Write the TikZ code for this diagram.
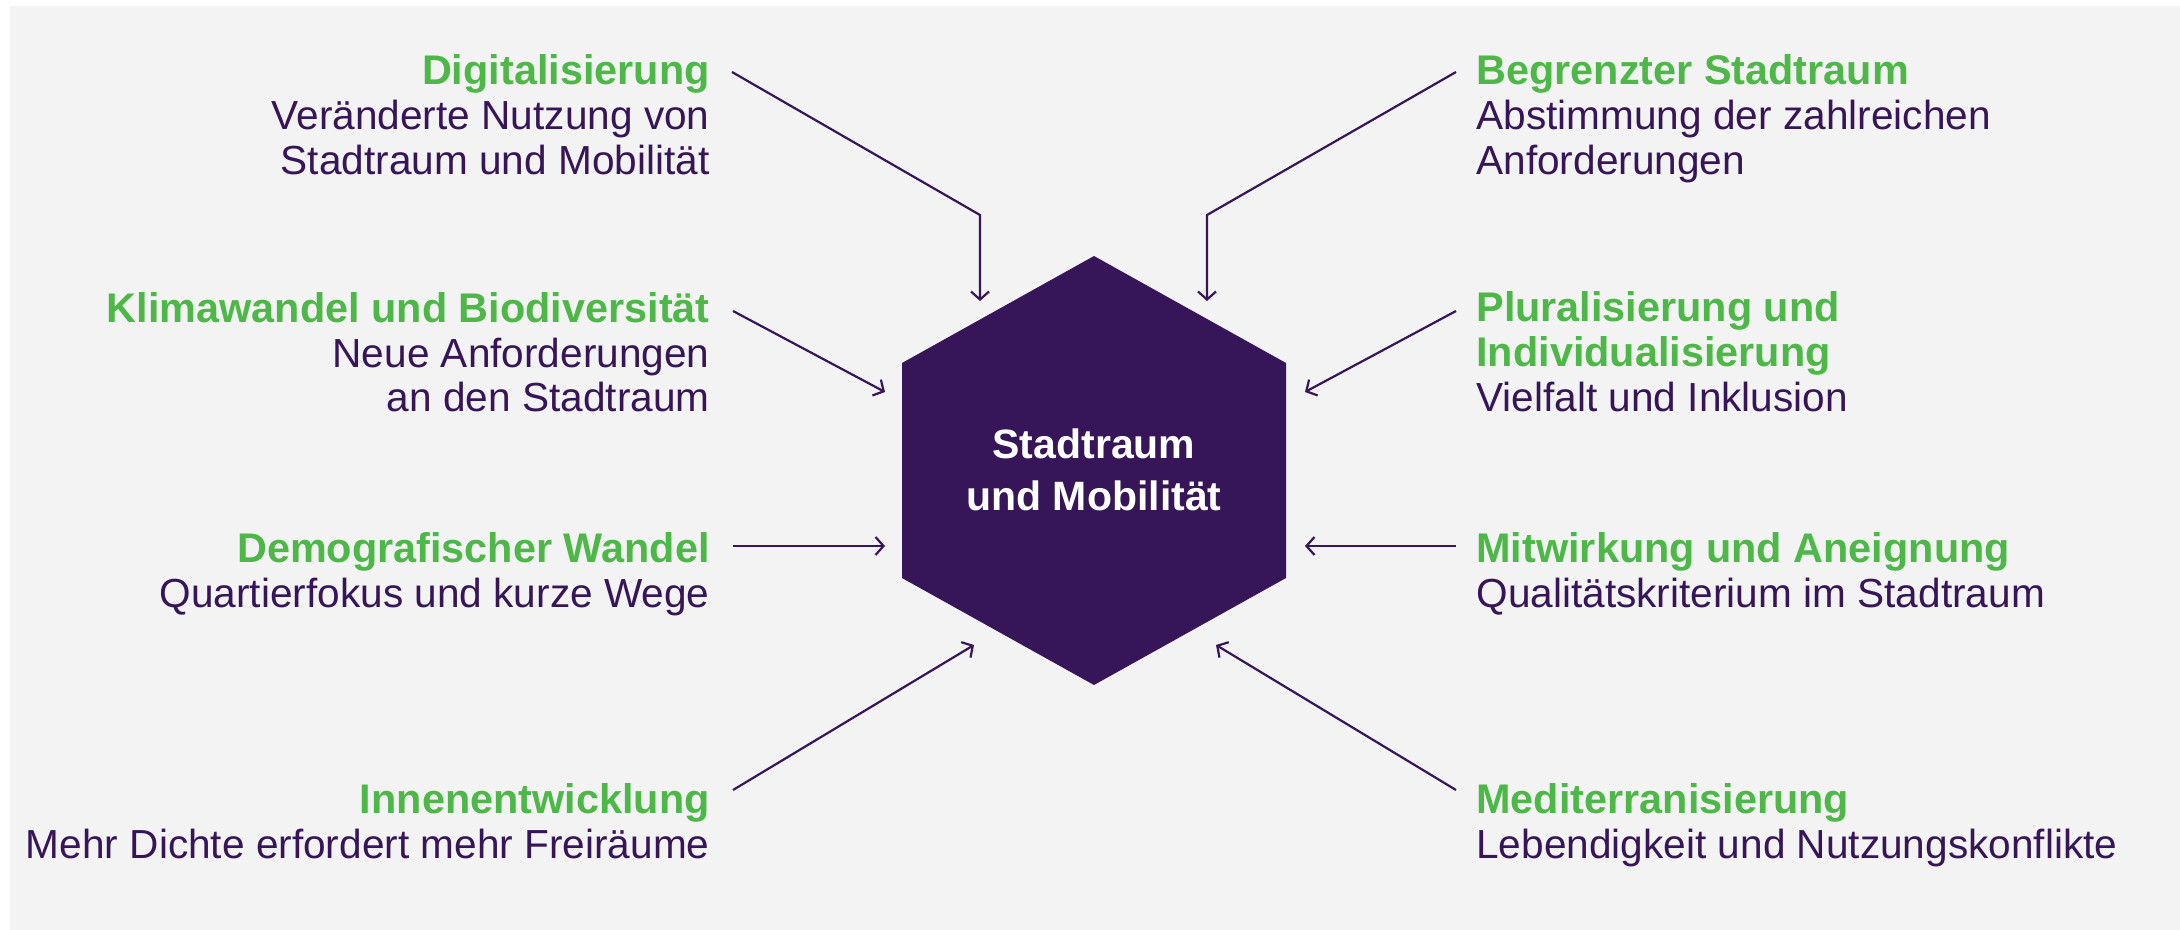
\documentclass[tikz,border=0pt]{standalone}
\usepackage{fontspec}
\setmainfont{Liberation Sans}
\usetikzlibrary{arrows.meta}
\definecolor{bg}{HTML}{F3F3F3}
\definecolor{grn}{HTML}{4DB848}
\definecolor{pur}{HTML}{361558}
\tikzset{
  ttl/.style={font=\fontsize{20.7pt}{22.5pt}\selectfont\bfseries, text=grn, inner sep=0pt},
  txt/.style={font=\fontsize{20.3pt}{22.5pt}\selectfont, text=pur, inner sep=0pt},
  lft/.style={anchor=base east},
  rgt/.style={anchor=base west},
  hextxt/.style={font=\fontsize{20.5pt}{25pt}\selectfont\bfseries, text=white, inner sep=0pt, anchor=base},
  arr/.style={draw=pur, line width=1.1pt, -{Straight Barb[length=4pt,width=9pt]}},
}
\begin{document}
\begin{tikzpicture}[x=0.5pt,y=-0.5pt]
\useasboundingbox (0,0) rectangle (2180,930);
\fill[white] (0,0) rectangle (2180,930);
\fill[bg] (10,6) rectangle (2180,930);

% hexagon
\fill[pur] (1094,256) -- (1286,363) -- (1286,578) -- (1094,685) -- (902,578) -- (902,363) -- cycle;
\node[hextxt] (hexA) at (1094,459) {Stadtraum};
\node[hextxt] (hexB) at (1094,510) {und Mobilität};

% left texts
\node[ttl,lft] (digT) at (710,85) {Digitalisierung};
\node[txt,lft] (digA) at (710,130) {Veränderte Nutzung von};
\node[txt,lft] (digB) at (710,175) {Stadtraum und Mobilität};

\node[ttl,lft] (kliT) at (710,323) {Klimawandel und Biodiversität};
\node[txt,lft] (kliA) at (710,368) {Neue Anforderungen};
\node[txt,lft] (kliB) at (710,412) {an den Stadtraum};

\node[ttl,lft] (demT) at (710,562) {Demografischer Wandel};
\node[txt,lft] (demA) at (710,607) {Quartierfokus und kurze Wege};

\node[ttl,lft] (innT) at (710,813) {Innenentwicklung};
\node[txt,lft] (innA) at (710,858) {Mehr Dichte erfordert mehr Freiräume};

% right texts
\node[ttl,rgt] (begT) at (1476,85) {Begrenzter Stadtraum};
\node[txt,rgt] (begA) at (1476,130) {Abstimmung der zahlreichen};
\node[txt,rgt] (begB) at (1476,175) {Anforderungen};

\node[ttl,rgt] (pluT) at (1476,322) {Pluralisierung und};
\node[ttl,rgt] (pluU) at (1476,367) {Individualisierung};
\node[txt,rgt] (pluA) at (1476,412) {Vielfalt und Inklusion};

\node[ttl,rgt] (mitT) at (1476,562) {Mitwirkung und Aneignung};
\node[txt,rgt] (mitA) at (1476,607) {Qualitätskriterium im Stadtraum};

\node[ttl,rgt] (medT) at (1476,813) {Mediterranisierung};
\node[txt,rgt] (medA) at (1476,858) {Lebendigkeit und Nutzungskonflikte};

% arrow coordinates
\coordinate (sDig) at (732,72);   \coordinate (eDig) at (980,215);  \coordinate (tDig) at (980,301);
\coordinate (sBeg) at (1456,72);  \coordinate (eBeg) at (1207,215); \coordinate (tBeg) at (1207,301);
\coordinate (sKli) at (733,311);  \coordinate (tKli) at (885,392);
\coordinate (sPlu) at (1456,311); \coordinate (tPlu) at (1305,392);
\coordinate (sDem) at (733,546);  \coordinate (tDem) at (885,546);
\coordinate (sMit) at (1456,546); \coordinate (tMit) at (1305,546);
\coordinate (sInn) at (733,790);  \coordinate (tInn) at (974,645);
\coordinate (sMed) at (1456,790); \coordinate (tMed) at (1216,645);

\draw[arr] (sDig) -- (eDig) -- (tDig);
\draw[arr] (sBeg) -- (eBeg) -- (tBeg);
\draw[arr] (sKli) -- (tKli);
\draw[arr] (sPlu) -- (tPlu);
\draw[arr] (sDem) -- (tDem);
\draw[arr] (sMit) -- (tMit);
\draw[arr] (sInn) -- (tInn);
\draw[arr] (sMed) -- (tMed);
\end{tikzpicture}
\end{document}
